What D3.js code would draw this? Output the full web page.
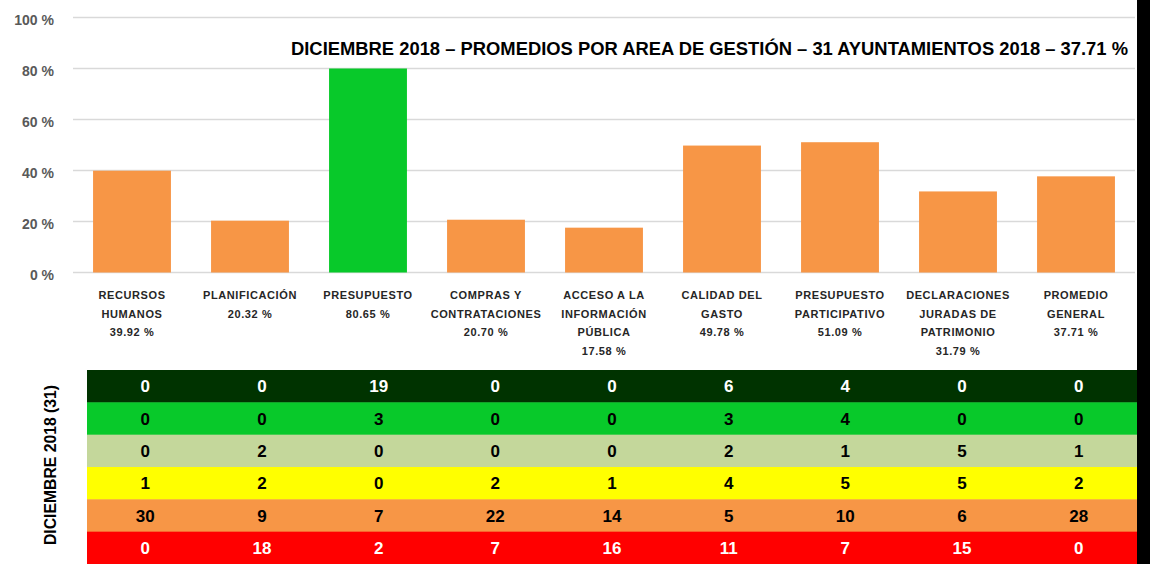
<!DOCTYPE html>
<html>
<head>
<meta charset="utf-8">
<script src="https://cdn.jsdelivr.net/npm/d3@7"></script>
<style>
body { margin: 0; background: #fff; }
text { font-family: "Liberation Sans", Arial, sans-serif; }
</style>
</head>
<body>
<script>
var width = 1150;
var height = 564;

// datos
var areas = ["RECURSOS HUMANOS", "PLANIFICACIÓN", "PRESUPUESTO", "COMPRAS Y CONTRATACIONES",
  "ACCESO A LA INFORMACIÓN PÚBLICA", "CALIDAD DEL GASTO", "PRESUPUESTO PARTICIPATIVO",
  "DECLARACIONES JURADAS DE PATRIMONIO", "PROMEDIO GENERAL"];
var etiquetas = [["RECURSOS", "HUMANOS"], ["PLANIFICACIÓN"], ["PRESUPUESTO"], ["COMPRAS Y", "CONTRATACIONES"],
  ["ACCESO A LA", "INFORMACIÓN", "PÚBLICA"], ["CALIDAD DEL", "GASTO"], ["PRESUPUESTO", "PARTICIPATIVO"],
  ["DECLARACIONES", "JURADAS DE", "PATRIMONIO"], ["PROMEDIO", "GENERAL"]];
var promedios = [39.92, 20.32, 80.65, 20.70, 17.58, 49.78, 51.09, 31.79, 37.71];
var ticks = [0, 20, 40, 60, 80, 100];

// tabla de ayuntamientos por rango (filas de arriba a abajo)
var fila1 = [0, 0, 19, 0, 0, 6, 4, 0, 0];
var fila2 = [0, 0, 3, 0, 0, 3, 4, 0, 0];
var fila3 = [0, 2, 0, 0, 0, 2, 1, 5, 1];
var fila4 = [1, 2, 0, 2, 1, 4, 5, 5, 2];
var fila5 = [30, 9, 7, 22, 14, 5, 10, 6, 28];
var fila6 = [0, 18, 2, 7, 16, 11, 7, 15, 0];
var filas = [fila1, fila2, fila3, fila4, fila5, fila6];
var coloresFila = ["#003300", "#08C92A", "#C4D79B", "#FFFF00", "#F79646", "#FF0000"];
var textoFila = ["#fff", "#000", "#000", "#000", "#000", "#fff"];

var titulo = "DICIEMBRE 2018 – PROMEDIOS POR AREA DE GESTIÓN – 31 AYUNTAMIENTOS 2018 – 37.71 %";

var svg = d3.select("body").append("svg")
  .attr("width", width)
  .attr("height", height);

var x = d3.scaleBand().domain(areas).range([73, 1135]).paddingInner(0.34).paddingOuter(0.17);
var y = d3.scaleLinear().domain([0, 100]).range([272.5, 17.5]);

// rejilla
svg.append("g").selectAll("line").data(ticks).enter().append("line")
  .attr("x1", 73).attr("x2", 1135)
  .attr("y1", function(d) { return y(d); })
  .attr("y2", function(d) { return y(d); })
  .attr("stroke", "#D9D9D9").attr("stroke-width", 1.5);

svg.append("g").selectAll("text").data(ticks).enter().append("text")
  .attr("x", 54).attr("y", function(d) { return y(d) + 7.5; })
  .attr("text-anchor", "end")
  .attr("font-size", 14).attr("font-weight", "bold").attr("fill", "#595959")
  .text(function(d) { return d + " %"; });

// barras (la escala visible llega hasta 80 %)
svg.append("g").selectAll("rect").data(areas).enter().append("rect")
  .attr("x", function(d) { return x(d); })
  .attr("width", x.bandwidth())
  .attr("y", function(d, i) { return y(Math.min(promedios[i], 80)); })
  .attr("height", function(d, i) { return y(0) - y(Math.min(promedios[i], 80)); })
  .attr("fill", function(d, i) { return promedios[i] >= 80 ? "#08C92A" : "#F79646"; });

// titulo
svg.append("text")
  .attr("x", 291).attr("y", 55)
  .attr("font-size", 18).attr("font-weight", "bold").attr("fill", "#000")
  .attr("textLength", 837).attr("lengthAdjust", "spacingAndGlyphs")
  .text(titulo);

// etiquetas de categoria
var cat = svg.append("g").selectAll("text").data(areas).enter().append("text")
  .attr("text-anchor", "middle")
  .attr("font-size", 11).attr("font-weight", "bold").attr("fill", "#262626")
  .attr("letter-spacing", 0.6);
cat.each(function(d, i) {
  var t = d3.select(this);
  var lineas = etiquetas[i].concat([promedios[i].toFixed(2) + " %"]);
  lineas.forEach(function(l, j) {
    t.append("tspan")
      .attr("x", x(d) + x.bandwidth() / 2)
      .attr("y", 299 + j * 18.5)
      .text(l);
  });
});

// tabla
var xt = d3.scaleBand().domain(areas).range([87, 1137]);
var yt = d3.scaleBand().domain(d3.range(filas.length)).range([370, 564]);

filas.forEach(function(f, r) {
  svg.append("rect")
    .attr("x", 87).attr("y", yt(r))
    .attr("width", 1137 - 87).attr("height", yt.bandwidth() + 0.5)
    .attr("fill", coloresFila[r]);
  svg.append("g").selectAll("text").data(f).enter().append("text")
    .attr("x", function(d, i) { return xt(areas[i]) + xt.bandwidth() / 2; })
    .attr("y", yt(r) + yt.bandwidth() / 2 + 6)
    .attr("text-anchor", "middle")
    .attr("font-size", 17).attr("font-weight", "bold")
    .attr("fill", textoFila[r])
    .text(function(d) { return d; });
});

svg.append("text")
  .attr("transform", "translate(56,465) rotate(-90)")
  .attr("text-anchor", "middle")
  .attr("font-size", 16).attr("font-weight", "bold").attr("fill", "#000")
  .attr("textLength", 160).attr("lengthAdjust", "spacingAndGlyphs")
  .text("DICIEMBRE 2018 (31)");

// borde negro derecho
svg.append("rect").attr("x", 1137).attr("y", 0).attr("width", 13).attr("height", height).attr("fill", "#000");
</script>
</body>
</html>
